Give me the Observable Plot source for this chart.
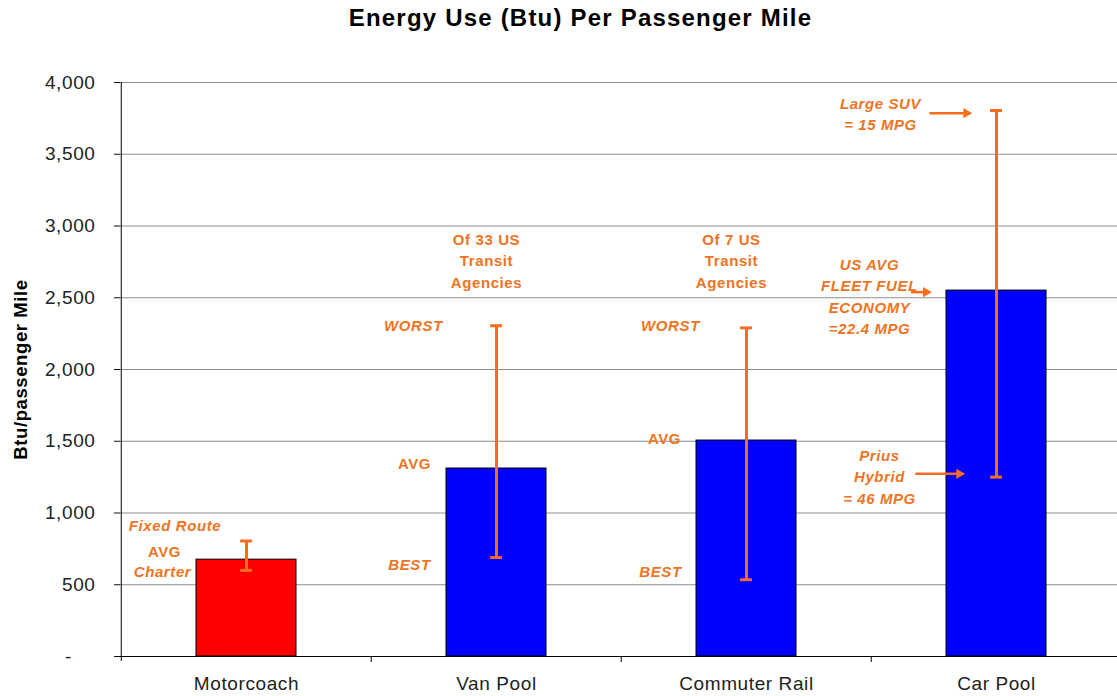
<!DOCTYPE html>
<html>
<head>
<meta charset="utf-8">
<script src="https://cdn.jsdelivr.net/npm/d3@7"></script>
<script src="https://cdn.jsdelivr.net/npm/@observablehq/plot@0.6"></script>
<style>
  html, body { margin: 0; padding: 0; background: #fff; }
  body { width: 1117px; height: 696px; position: relative; overflow: hidden; font-family: "Liberation Sans", Arial, sans-serif; }
  #title { position: absolute; top: 4px; left: 0; width: 1117px; box-sizing: border-box; padding-left: 44px;
           text-align: center; font-weight: bold; font-size: 24px; letter-spacing: 1.2px; line-height: 28px; color: #000; }
  #chart { position: absolute; top: 0; left: 0; }
</style>
</head>
<body>
<div id="chart"></div>
<div id="title"></div>
<script>
// ---- data ----
const chartTitle = "Energy Use (Btu) Per Passenger Mile";
const yTitle = "Btu/passenger Mile";
const categories = ["Motorcoach", "Van Pool", "Commuter Rail", "Car Pool"];
const averages = [675, 1310, 1505, 2550];
const bests = [600, 690, 535, 1250];
const worsts = [805, 2305, 2290, 3805];
const barFills = ["#FF0000", "#0000FF", "#0000FF", "#0000FF"];
const yTickValues = [0, 500, 1000, 1500, 2000, 2500, 3000, 3500, 4000];

const noteCategories = ["Motorcoach", "Motorcoach", "Motorcoach",
  "Van Pool", "Van Pool", "Van Pool", "Van Pool",
  "Commuter Rail", "Commuter Rail", "Commuter Rail", "Commuter Rail",
  "Car Pool", "Car Pool", "Car Pool"];
const noteTexts = ["Fixed Route", "AVG", "Charter",
  "Of 33 US\nTransit\nAgencies", "WORST", "AVG", "BEST",
  "Of 7 US\nTransit\nAgencies", "WORST", "AVG", "BEST",
  "Large SUV\n= 15 MPG", "US AVG\nFLEET FUEL\nECONOMY\n=22.4 MPG", "Prius\nHybrid\n= 46 MPG"];
const noteValues = [920, 739, 604,
  2767, 2313, 1354, 650,
  2767, 2313, 1528, 604,
  3791, 2518, 1261];
const arrowCategories = ["Car Pool", "Car Pool", "Car Pool"];
const arrowValues = [3786, 2539, 1273];

// ---- layout (pixels / styles) ----
const W = 1117, H = 696, mL = 120, mR = -5, mT = 82, mB = 40;
const step = (W - mL - mR) / categories.length;
const bandW = step * 0.4;
const orangeText = "#EE7424";
const orangeLine = "#F86C1C";
const noteDx = [-71.5, -82, -84, -10, -83, -82, -87, -15, -76, -82, -86, -116, -127, -117];
const noteItalic = [true, false, true, false, true, false, true, false, true, false, true, true, true, true];
const arrowFrom = [-66.75, -85, -80.75];
const arrowTip = [-24.75, -65, -31.75];

const rows = categories.map((c, i) => ({cat: c, avg: averages[i], best: bests[i], worst: worsts[i], fill: barFills[i]}));
const notes = noteTexts.map((t, i) => ({cat: noteCategories[i], v: noteValues[i], text: t}));
const arrows = arrowValues.map((v, i) => ({cat: arrowCategories[i], v}));

document.getElementById("title").textContent = chartTitle;

const fmt = d => d === 0 ? "-\u00a0\u00a0\u00a0\u00a0" : d3.format(",")(d);

const noteMarks = notes.map((n, i) => Plot.text([n], {
  x: "cat", y: "v", text: "text", dx: noteDx[i],
  fill: orangeText, fontSize: 15, fontWeight: "bold",
  fontStyle: noteItalic[i] ? "italic" : "normal", lineHeight: 1.43,
  fontFamily: "Liberation Sans, Arial, sans-serif"
}));

const arrowMarks = arrows.flatMap((a, i) => [
  Plot.tickY([a], {
    x: "cat", y: "v", stroke: orangeLine, strokeWidth: 2.5,
    insetLeft: bandW / 2 + arrowFrom[i], insetRight: bandW / 2 - arrowTip[i] + 6
  }),
  Plot.dot([a], {
    x: "cat", y: "v", symbol: "triangle", r: 3.8, rotate: 90,
    fill: orangeLine, stroke: "none", dx: arrowTip[i] - 5.5
  })
]);

const chart = Plot.plot({
  width: W, height: H,
  marginTop: mT, marginBottom: mB, marginLeft: mL, marginRight: mR,
  x: {domain: categories, paddingInner: 0.6, paddingOuter: 0.3},
  y: {domain: [0, 4000]},
  color: {type: "identity"},
  style: {fontFamily: "Liberation Sans, Arial, sans-serif", fontSize: "19px", letterSpacing: "0.6px", color: "#111", background: "#fff", overflow: "visible"},
  marks: [
    Plot.gridY(yTickValues, {stroke: "#8e8e8e", strokeOpacity: 1, strokeWidth: 1}),
    Plot.barY(rows, {x: "cat", y: "avg", fill: "fill", stroke: "#000", strokeWidth: 1}),
    Plot.ruleY([0], {stroke: "#000", strokeWidth: 1}),
    Plot.ruleX([categories[0]], {y1: 4000, y2: 0, dx: -step / 2, stroke: "#000", strokeWidth: 1, insetBottom: -5}),
    Plot.ruleX(categories.slice(1), {y1: 0, y2: 0, dx: -step / 2, stroke: "#000", strokeWidth: 1, insetBottom: -6}),
    Plot.ruleX(categories.slice(-1), {y1: 0, y2: 0, dx: step / 2, stroke: "#000", strokeWidth: 1, insetBottom: -6}),
    Plot.axisY(yTickValues, {tickSize: 6, tickPadding: 19, tickFormat: fmt, label: null, fill: "#222"}),
    Plot.axisX({tickSize: 0, tickPadding: 20, label: null, fill: "#222"}),
    Plot.ruleX(rows, {x: "cat", y1: "best", y2: "worst", stroke: orangeLine, strokeWidth: 3}),
    Plot.tickY(rows, {x: "cat", y: "best", stroke: orangeLine, strokeWidth: 3, insetLeft: bandW / 2 - 6, insetRight: bandW / 2 - 6}),
    Plot.tickY(rows, {x: "cat", y: "worst", stroke: orangeLine, strokeWidth: 3, insetLeft: bandW / 2 - 6, insetRight: bandW / 2 - 6}),
    ...noteMarks,
    ...arrowMarks,
    Plot.text([yTitle], {frameAnchor: "left", textAnchor: "middle", text: d => d, rotate: -90, dx: -99, fontWeight: "bold", fontSize: 18.5, fill: "#000"})
  ]
});
document.getElementById("chart").appendChild(chart);
</script>
</body>
</html>
